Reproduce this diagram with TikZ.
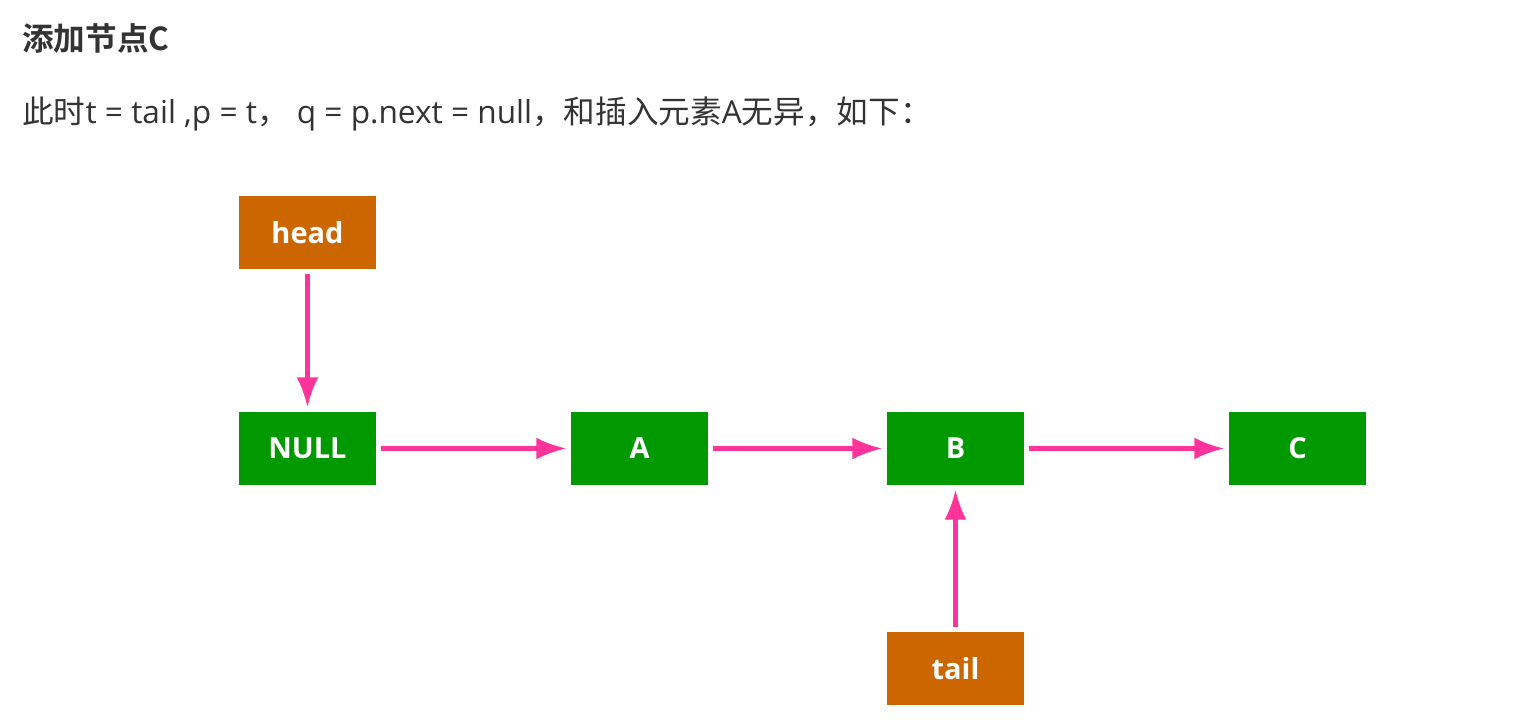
\documentclass[tikz,border=0pt]{standalone}
\usepackage{fontspec}
\usepackage{xcolor}
\usepackage{tikz}
\usetikzlibrary{arrows.meta}
\setmainfont{Open Sans}
\newfontfamily\cjk{Noto Sans CJK SC}
\newfontfamily\cjkbold{Noto Sans CJK SC Bold}
\definecolor{listgreen}{RGB}{0, 153, 0}
\definecolor{ptrorange}{RGB}{204, 102, 0}
\definecolor{linkpink}{RGB}{255, 51, 153}
\definecolor{textgray}{RGB}{51, 51, 51}

\begin{document}
\begin{tikzpicture}[x=0.02cm, y=-0.02cm,
  listnode/.style={rectangle, fill=listgreen, text=white, minimum width=2.74cm, minimum height=1.46cm, inner sep=0pt, font=\fontsize{16.5}{18}\selectfont\bfseries},
  ptrnode/.style={listnode, fill=ptrorange},
  link/.style={-{Latex[length=17pt, width=12.5pt]}, line width=2.3pt, draw=linkpink, shorten <=2.5pt, shorten >=2.5pt}]
\useasboundingbox (0,0) rectangle (1532,720);

% Heading and caption
\node[anchor=base west, inner sep=0pt, text=textgray, font=\fontsize{18}{20}\selectfont\cjkbold] (title) at (22,51) {添加节点C};
\node[anchor=base west, inner sep=0pt, text=textgray, font=\fontsize{18}{20}\selectfont] (caption) at (22,123)
  {{\cjk 此时}t = tail ,p = t{\cjk ，} q = p.next = null{\cjk ，和插入元素}A{\cjk 无异，如下：}};

% List: NULL -> A -> B -> C
\node[ptrnode] (head) at (307.5,232.5) {head};
\node[listnode] (null) at (307.5,448.5) {NULL};
\node[listnode] (a) at (639.5,448.5) {A};
\node[listnode] (b) at (955.5,448.5) {B};
\node[listnode] (c) at (1297.5,448.5) {C};
\node[ptrnode] (tail) at (955.5,668.5) {tail};

% Links
\draw[link] (head) -- (null);
\draw[link] (null) -- (a);
\draw[link] (a) -- (b);
\draw[link] (b) -- (c);
\draw[link] (tail) -- (b);
\end{tikzpicture}
\end{document}
